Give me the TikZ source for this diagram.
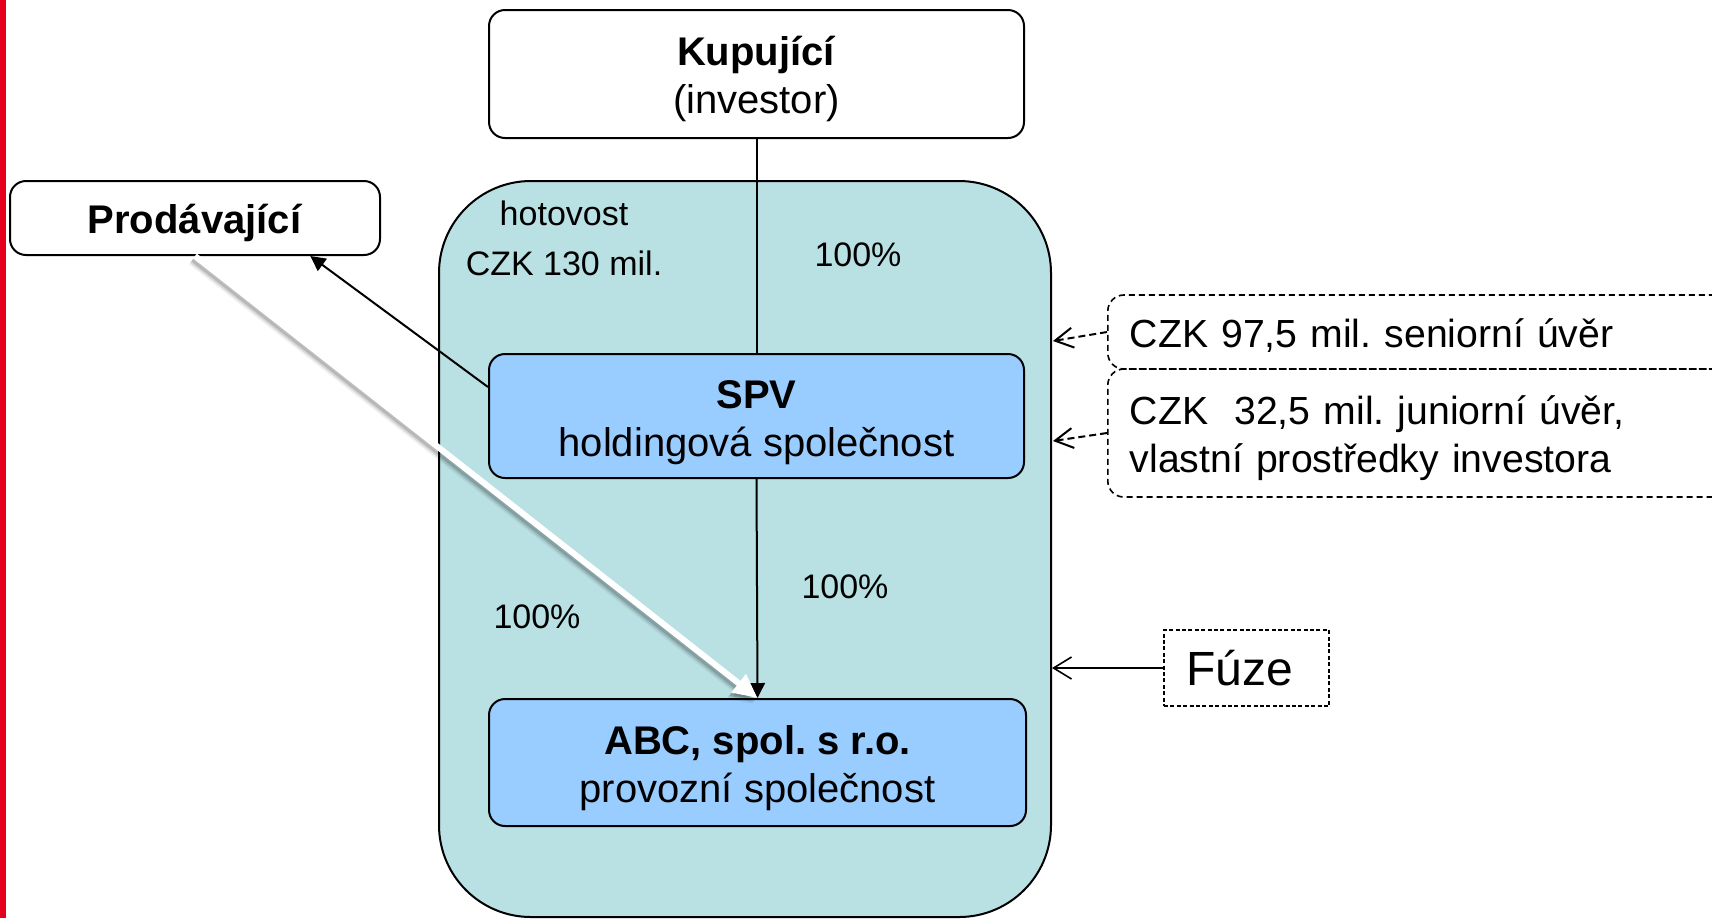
\documentclass[tikz,border=0pt]{standalone}
\usepackage{fontspec}
\setmainfont{Liberation Sans}
\usetikzlibrary{arrows.meta,calc}
\definecolor{poolteal}{RGB}{185,224,227}
\definecolor{unitblue}{RGB}{153,204,255}
\definecolor{edgered}{RGB}{228,0,28}
\begin{document}
\frenchspacing
\begin{tikzpicture}[x=0.5pt,y=-0.5pt,
  entity/.style={draw=black, line width=1pt, rounded corners=8pt, align=center,
    inner sep=0pt, text depth=0pt, font=\fontsize{20}{24}\selectfont},
  whitebox/.style={entity, fill=white},
  bluebox/.style={entity, fill=unitblue},
  note/.style={font=\fontsize{17}{20}\selectfont, inner sep=0pt},
  loanbox/.style={draw=black, line width=0.8pt, dash pattern=on 3pt off 2pt,
    rounded corners=8pt, anchor=west, align=left, inner xsep=11pt, inner ysep=0pt,
    text width=304.5pt, minimum width=326.5pt,
    font=\fontsize{19.6}{24}\selectfont},
  link/.style={draw=black, line width=1pt},
  owns/.style={link, -{Triangle[length=7.5pt,width=7.5pt]}},
  feed/.style={draw=black, line width=1pt, dash pattern=on 3.5pt off 2pt,
    -{Straight Barb[length=9pt,width=10pt]}},
  merge/.style={draw=black, line width=0.8pt, -{Straight Barb[length=9pt,width=11pt]}},
  transfer/.style={line width=3pt, -{Triangle[length=12pt,width=11pt]}}
]
\useasboundingbox (0,0) rectangle (1712,918);
\clip (0,0) rectangle (1712,918);

% red margin strip
\fill[edgered] (0,0) rectangle (6,918);

% merged group
\node[draw=black, fill=poolteal, line width=1pt, rounded corners=46pt,
  minimum width=306pt, minimum height=368pt, inner sep=0pt] (pool) at (745,549) {};

% parties
\node[whitebox, minimum width=267.5pt, minimum height=64pt, text height=39pt]
  (kup) at (756.5,74) {\textbf{Kupující}\\(investor)};
\node[whitebox, minimum width=185pt, minimum height=37pt, text height=15.5pt]
  (prod) at (195,218) {\textbf{Prodávající}};
\node[bluebox, minimum width=267.5pt, minimum height=62pt, text height=40pt]
  (spv) at (756.5,416) {\textbf{SPV}\\holdingová společnost};
\node[bluebox, minimum width=268.5pt, minimum height=63.5pt, text height=39.5pt]
  (abc) at (757.5,762.5) {\textbf{ABC, spol. s r.o.}\\provozní společnost};

% labels inside the group
\node[note] (cash1) at (564,213) {hotovost};
\node[note] (cash2) at (564,263) {CZK 130 mil.};
\node[note] (p1) at (858,255) {100\%};
\node[note] (p2) at (845,587) {100\%};
\node[note] (p3) at (537,617) {100\%};

% financing sources
\node[loanbox, minimum height=37pt, text height=15pt, text depth=0pt] (senior)
  at (1107,332) {CZK 97,5 mil. seniorní úvěr};
\node[loanbox, minimum height=64pt, text height=0pt, text depth=8.5pt] (junior)
  at (1107,433) {CZK\ \ 32,5 mil. juniorní úvěr,\\vlastní prostředky investora};
\node[draw=black, line width=0.7pt, dash pattern=on 2pt off 1.2pt, minimum width=82.5pt,
  minimum height=38pt, inner xsep=11pt, inner ysep=0pt, text width=60.5pt, align=left,
  font=\fontsize{24}{28}\selectfont] (fuze) at (1246.5,668) {Fúze};

\coordinate (inS) at (1053,341);
\coordinate (inJ) at (1053,441);

% connectors
\draw[link] (kup.south) -- (spv.north);
\draw[owns] (spv.south) -- (abc.north);
\draw[owns] ($(spv.north west)!0.27!(spv.south west)$)
  -- ($(prod.south west)!0.81!(prod.south east)$);
\draw[feed] (senior.west) -- (inS);
\draw[feed] (junior.west) -- (inJ);
\draw[merge] (fuze.west) -- (fuze.west -| pool.east);

% share transfer arrow with a soft shadow on its lower side
\foreach \dx/\dy/\o in {-4/6/0.06, -3/4.5/0.1, -2/3/0.14} {
  \draw[draw=black, fill=black, opacity=\o, transfer]
    ($(prod.south)+(\dx,\dy)$) -- ($(abc.north)+(\dx,\dy)$);
}
\draw[draw=white, fill=white, transfer] (prod.south) -- (abc.north);
\end{tikzpicture}
\end{document}
